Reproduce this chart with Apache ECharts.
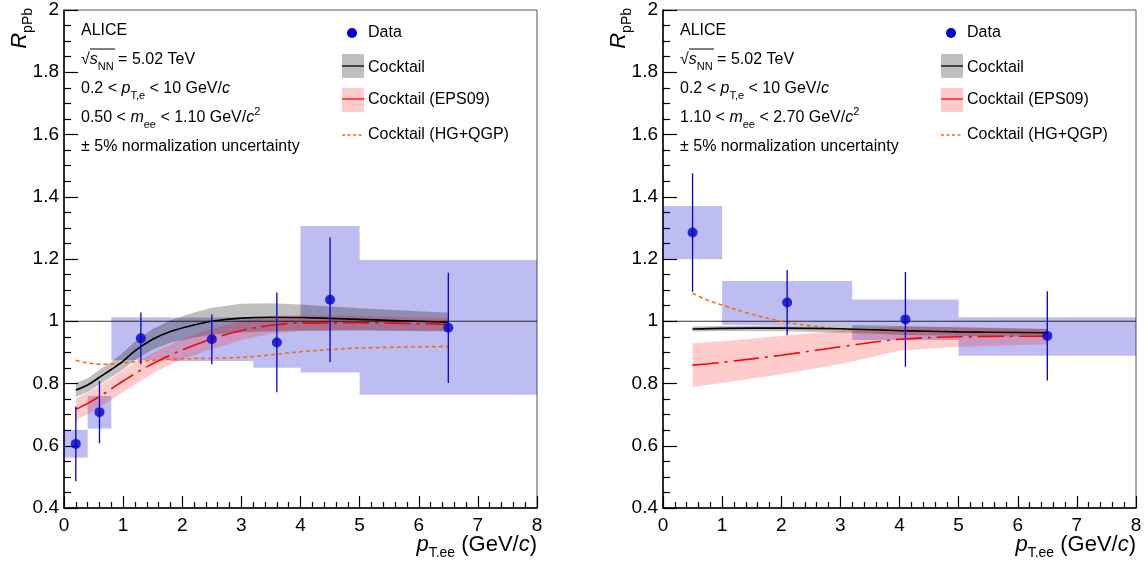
<!DOCTYPE html>
<html><head><meta charset="utf-8">
<script src="https://cdn.jsdelivr.net/npm/echarts/dist/echarts.min.js"></script>
<style>html,body{margin:0;padding:0;background:#fff}#c{width:1147px;height:562px}</style>
</head><body><div id="c"></div>
<script>
// ---------------- Left panel: 0.50 < m_ee < 1.10 GeV/c^2 ----------------
const L_dataX   = [0.2, 0.6, 1.3, 2.5, 3.6, 4.5, 6.5];
const L_dataY   = [0.606, 0.708, 0.945, 0.942, 0.932, 1.069, 0.979];
const L_statErr = [0.12, 0.10, 0.083, 0.08, 0.16, 0.20, 0.177];
const L_binLo   = [0, 0.4, 0.8, 1.8, 3.2, 4.0, 5.0];
const L_binHi   = [0.4, 0.8, 1.8, 3.2, 4.0, 5.0, 8.0];
const L_sysLo   = [0.562, 0.655, 0.875, 0.872, 0.851, 0.835, 0.764];
const L_sysHi   = [0.651, 0.760, 1.013, 1.012, 1.012, 1.306, 1.197];

const L_cockX  = [0.2, 0.4, 0.6, 0.8, 1.0, 1.2, 1.5, 1.8, 2.2, 2.5, 3.0, 3.5, 4.0, 5.0, 6.5];
const L_cockY  = [0.779, 0.795, 0.820, 0.845, 0.872, 0.905, 0.942, 0.967, 0.988, 1.000, 1.010, 1.013, 1.012, 1.006, 0.997];
const L_cockHi = [0.801, 0.817, 0.843, 0.870, 0.899, 0.935, 0.975, 1.003, 1.028, 1.043, 1.056, 1.058, 1.054, 1.042, 1.027];
const L_cockLo = [0.757, 0.773, 0.797, 0.820, 0.845, 0.875, 0.909, 0.931, 0.948, 0.957, 0.964, 0.968, 0.970, 0.970, 0.967];

const L_epsX  = [0.2, 0.4, 0.6, 0.8, 1.0, 1.3, 1.6, 2.0, 2.5, 3.0, 3.5, 4.0, 5.0, 6.5];
const L_epsY  = [0.717, 0.736, 0.758, 0.783, 0.808, 0.843, 0.873, 0.908, 0.943, 0.970, 0.987, 0.994, 0.995, 0.990];
const L_epsHi = [0.752, 0.771, 0.793, 0.818, 0.843, 0.878, 0.908, 0.942, 0.976, 1.002, 1.016, 1.020, 1.018, 1.010];
const L_epsLo = [0.683, 0.701, 0.723, 0.748, 0.773, 0.808, 0.843, 0.878, 0.910, 0.940, 0.960, 0.968, 0.972, 0.970];

const L_hgX = [0.2, 0.4, 0.6, 0.8, 1.0, 1.3, 1.8, 2.5, 3.0, 3.5, 4.0, 4.5, 5.0, 6.5];
const L_hgY = [0.875, 0.866, 0.862, 0.862, 0.866, 0.871, 0.878, 0.881, 0.884, 0.892, 0.902, 0.909, 0.914, 0.919];

// ---------------- Right panel: 1.10 < m_ee < 2.70 GeV/c^2 ----------------
const R_dataX   = [0.5, 2.1, 4.1, 6.5];
const R_dataY   = [1.285, 1.060, 1.006, 0.953];
const R_statErr = [0.19, 0.105, 0.152, 0.143];
const R_binLo   = [0, 1.0, 3.2, 5.0];
const R_binHi   = [1.0, 3.2, 5.0, 8.0];
const R_sysLo   = [1.199, 0.988, 0.940, 0.889];
const R_sysHi   = [1.370, 1.129, 1.070, 1.013];

const R_cockX  = [0.5, 1.0, 2.0, 3.0, 4.0, 5.0, 6.5];
const R_cockY  = [0.975, 0.977, 0.978, 0.976, 0.970, 0.966, 0.963];
const R_cockHi = [0.983, 0.985, 0.987, 0.988, 0.985, 0.980, 0.975];
const R_cockLo = [0.967, 0.969, 0.968, 0.964, 0.957, 0.953, 0.950];

const R_epsX  = [0.5, 1.0, 2.0, 3.0, 4.0, 5.0, 6.5];
const R_epsY  = [0.859, 0.868, 0.891, 0.918, 0.942, 0.950, 0.952];
const R_epsHi = [0.929, 0.936, 0.953, 0.970, 0.982, 0.982, 0.975];
const R_epsLo = [0.788, 0.802, 0.830, 0.862, 0.905, 0.918, 0.926];

const R_hgX = [0.5, 0.75, 1.0, 1.5, 2.0, 2.5, 3.0, 3.5, 4.0, 5.0, 6.5];
const R_hgY = [1.090, 1.068, 1.052, 1.023, 1.000, 0.985, 0.975, 0.970, 0.968, 0.965, 0.962];

const unityX = [0, 8];
const unityY = [1, 1];

// ---------------- Text ----------------
const legendLabels = ['Data', 'Cocktail', 'Cocktail (EPS09)', 'Cocktail (HG+QGP)'];
const massRanges = [['0.50', '1.10'], ['1.10', '2.70']];

const F = '"Liberation Sans", Arial, Helvetica, sans-serif';
const BLUE = '#0000cc';
const BOX = 'rgba(0,0,200,0.26)';
const GRAYBAND = 'rgba(0,0,0,0.25)';
const PINKBAND = 'rgba(255,0,0,0.2)';
const RED = '#ff0000';
const ORANGE = '#ff6600';
const gridLefts = [64, 663];
const gridTop = 10, gridW = 473, gridH = 498;

function boxSeries(idx, lo, hi, ylo, yhi) {
  return {
    type: 'custom', xAxisIndex: idx, yAxisIndex: idx, silent: true, clip: true,
    data: lo.map((v, i) => [v, hi[i], ylo[i], yhi[i]]),
    encode: {x: [0, 1], y: [2, 3]},
    renderItem: (p, api) => {
      const a = api.coord([api.value(0), api.value(3)]);
      const b = api.coord([api.value(1), api.value(2)]);
      return {type: 'rect', shape: {x: a[0], y: a[1], width: b[0] - a[0], height: b[1] - a[1]},
        style: {fill: BOX}};
    }
  };
}
function bandSeries(idx, xs, lo, hi, color) {
  return {
    type: 'custom', xAxisIndex: idx, yAxisIndex: idx, silent: true,
    data: xs.map((x, i) => [x, lo[i], hi[i]]),
    encode: {x: 0, y: [1, 2]},
    renderItem: (p, api) => {
      if (p.dataIndex !== 0) return {type: 'group', children: []};
      const top = xs.map((x, i) => api.coord([x, hi[i]]));
      const bot = xs.map((x, i) => api.coord([x, lo[i]])).reverse();
      return {type: 'polygon', shape: {points: top.concat(bot)}, style: {fill: color}};
    }
  };
}
function lineSeries(idx, xs, ys, color, width, type) {
  return {
    type: 'line', xAxisIndex: idx, yAxisIndex: idx, silent: true,
    data: xs.map((x, i) => [x, ys[i]]), smooth: 0.35, symbol: 'none',
    lineStyle: {color: color, width: width, type: type}
  };
}
function errSeries(idx, xs, ys, err) {
  return {
    type: 'custom', xAxisIndex: idx, yAxisIndex: idx, silent: true, z: 4,
    data: xs.map((x, i) => [x, ys[i] - err[i], ys[i] + err[i]]),
    encode: {x: 0, y: [1, 2]},
    renderItem: (p, api) => {
      const a = api.coord([api.value(0), api.value(1)]);
      const b = api.coord([api.value(0), api.value(2)]);
      return {type: 'line', shape: {x1: a[0], y1: a[1], x2: b[0], y2: b[1]},
        style: {stroke: BLUE, lineWidth: 1.3}};
    }
  };
}
function dataSeries(idx, xs, ys) {
  return {type: 'scatter', xAxisIndex: idx, yAxisIndex: idx, silent: true, z: 5,
    data: xs.map((x, i) => [x, ys[i]]), symbol: 'circle', symbolSize: 10,
    itemStyle: {color: BLUE}};
}

const panels = [
  {dx: L_dataX, dy: L_dataY, de: L_statErr, bl: L_binLo, bh: L_binHi, sl: L_sysLo, sh: L_sysHi,
   cx: L_cockX, cy: L_cockY, chi: L_cockHi, clo: L_cockLo,
   ex: L_epsX, ey: L_epsY, ehi: L_epsHi, elo: L_epsLo, hx: L_hgX, hy: L_hgY},
  {dx: R_dataX, dy: R_dataY, de: R_statErr, bl: R_binLo, bh: R_binHi, sl: R_sysLo, sh: R_sysHi,
   cx: R_cockX, cy: R_cockY, chi: R_cockHi, clo: R_cockLo,
   ex: R_epsX, ey: R_epsY, ehi: R_epsHi, elo: R_epsLo, hx: R_hgX, hy: R_hgY}
];

const series = [];
panels.forEach((P, i) => {
  series.push(boxSeries(i, P.bl, P.bh, P.sl, P.sh));
  series.push(bandSeries(i, P.cx, P.clo, P.chi, GRAYBAND));
  series.push(bandSeries(i, P.ex, P.elo, P.ehi, PINKBAND));
  series.push(lineSeries(i, unityX, unityY, 'rgba(0,0,0,0.8)', 1.2, 'solid'));
  series.push(lineSeries(i, P.hx, P.hy, ORANGE, 1.5, [4, 3]));
  series.push(lineSeries(i, P.ex, P.ey, RED, 1.6, [26, 6, 3, 6]));
  series.push(lineSeries(i, P.cx, P.cy, '#000', 1.6, 'solid'));
  series.push(errSeries(i, P.dx, P.dy, P.de));
  series.push(dataSeries(i, P.dx, P.dy));
});

const rich = {
  n: {fontSize: 16, fontFamily: F, color: '#000', lineHeight: 24},
  i: {fontSize: 16, fontFamily: F, fontStyle: 'italic', color: '#000', lineHeight: 24},
  sub: {fontSize: 11, fontFamily: F, color: '#000', verticalAlign: 'bottom'},
  sup: {fontSize: 11, fontFamily: F, color: '#000', verticalAlign: 'top'}
};
const richT = {
  n: {fontSize: 22, fontFamily: F, color: '#000', lineHeight: 30},
  i: {fontSize: 22, fontFamily: F, fontStyle: 'italic', color: '#000', lineHeight: 30},
  sub: {fontSize: 14, fontFamily: F, color: '#000', verticalAlign: 'bottom'}
};
function txt(x, y, text, r, extra) {
  return Object.assign({type: 'text', x: x, y: y, silent: true, z: 10,
    style: {text: text, rich: r || rich, verticalAlign: 'middle', align: 'left', fill: '#000', font: '16px ' + F}}, extra || {});
}

const graphic = [];
gridLefts.forEach((g, i) => {
  const mr = massRanges[i];
  graphic.push(txt(g + 17, 31, '{n|ALICE}'));
  graphic.push(txt(g + 17, 60, '{n|√}{i|s}{sub|NN}{n| = 5.02 TeV}'));
  graphic.push({type: 'line', silent: true, z: 10, shape: {x1: g + 26, y1: 49, x2: g + 51, y2: 49},
    style: {stroke: '#000', lineWidth: 1}});
  graphic.push(txt(g + 17, 89, '{n|0.2 < }{i|p}{sub|T,e}{n| < 10 GeV/}{i|c}'));
  graphic.push(txt(g + 17, 118, '{n|' + mr[0] + ' < }{i|m}{sub|ee}{n| < ' + mr[1] + ' GeV/}{i|c}{sup|2}'));
  graphic.push(txt(g + 17, 147, '{n|± 5% normalization uncertainty}'));
  // legend
  const lx = g + 278, tx = g + 304;
  graphic.push({type: 'circle', silent: true, z: 10, shape: {cx: g + 288, cy: 33, r: 5}, style: {fill: BLUE}});
  graphic.push(txt(tx, 33, '{n|' + legendLabels[0] + '}'));
  graphic.push({type: 'rect', silent: true, z: 10, shape: {x: lx, y: 54, width: 22, height: 24}, style: {fill: GRAYBAND}});
  graphic.push({type: 'line', silent: true, z: 10, shape: {x1: lx, y1: 66, x2: lx + 22, y2: 66}, style: {stroke: '#000', lineWidth: 1.3}});
  graphic.push(txt(tx, 68, '{n|' + legendLabels[1] + '}'));
  graphic.push({type: 'rect', silent: true, z: 10, shape: {x: lx, y: 88, width: 22, height: 24}, style: {fill: PINKBAND}});
  graphic.push({type: 'line', silent: true, z: 10, shape: {x1: lx, y1: 99, x2: lx + 22, y2: 99}, style: {stroke: RED, lineWidth: 1.3}});
  graphic.push(txt(tx, 100, '{n|' + legendLabels[2] + '}'));
  graphic.push({type: 'line', silent: true, z: 10, shape: {x1: lx, y1: 135, x2: lx + 22, y2: 135}, style: {stroke: ORANGE, lineWidth: 1.5, lineDash: [3, 2.5]}});
  graphic.push(txt(tx, 135, '{n|' + legendLabels[3] + '}'));
  // axis titles
  graphic.push(txt(g - 44, 8, '{i|R}{sub|pPb}', richT, {rotation: Math.PI / 2,
    style: {text: '{i|R}{sub|pPb}', rich: richT, align: 'right', verticalAlign: 'middle', font: '22px ' + F}}));
  graphic.push(txt(g + gridW, 545, '{i|p}{sub|T.ee}{n| (GeV/}{i|c}{n|)}', richT, {
    style: {text: '{i|p}{sub|T.ee}{n| (GeV/}{i|c}{n|)}', rich: richT, align: 'right', verticalAlign: 'middle', font: '22px ' + F}}));
});

const option = {
  animation: false,
  backgroundColor: '#fff',
  grid: gridLefts.map(l => ({left: l, top: gridTop, width: gridW, height: gridH, show: true,
    borderColor: '#555', borderWidth: 1, backgroundColor: 'transparent'})),
  xAxis: [0, 1].map(i => ({
    type: 'value', gridIndex: i, min: 0, max: 8, interval: 1,
    axisLine: {show: true, onZero: false, lineStyle: {color: '#000', width: 1.5}},
    axisTick: {show: true, inside: true, length: 12, lineStyle: {color: '#000', width: 1.2}},
    minorTick: {show: true, splitNumber: 5, length: 6, lineStyle: {color: '#000', width: 1.2}},
    axisLabel: {color: '#000', fontSize: 19, fontFamily: F, margin: 8},
    splitLine: {show: false}, minorSplitLine: {show: false}
  })),
  yAxis: [0, 1].map(i => ({
    type: 'value', gridIndex: i, min: 0.4, max: 2, interval: 0.2,
    axisLine: {show: true, onZero: false, lineStyle: {color: '#000', width: 1.5}},
    axisTick: {show: true, inside: true, length: 14, lineStyle: {color: '#000', width: 1.2}},
    minorTick: {show: true, splitNumber: 4, length: 7, lineStyle: {color: '#000', width: 1.2}},
    axisLabel: {color: '#000', fontSize: 19, fontFamily: F, margin: 5},
    splitLine: {show: false}, minorSplitLine: {show: false}
  })),
  series: series,
  graphic: graphic
};
const chart = echarts.init(document.getElementById('c'), null, {renderer: 'canvas'});
chart.setOption(option);
</script></body></html>
